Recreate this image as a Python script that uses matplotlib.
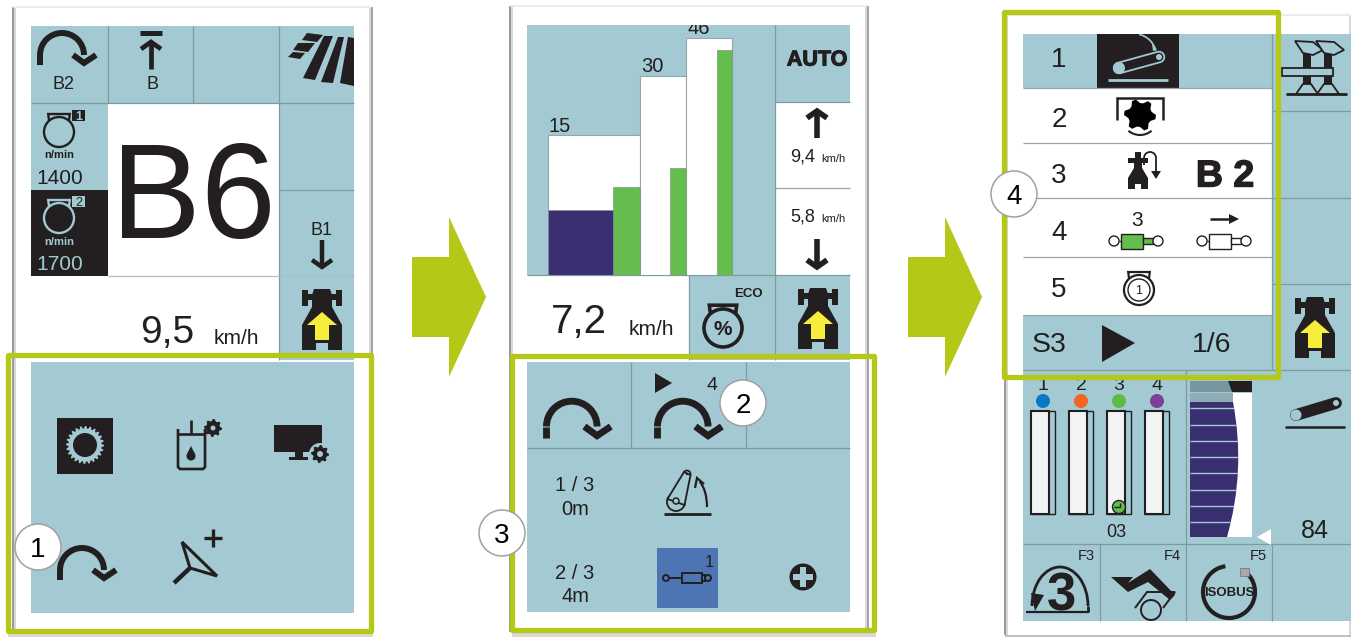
import numpy as np
import matplotlib
matplotlib.use('Agg')
import matplotlib.pyplot as plt
import matplotlib.patheffects as pe
from matplotlib.patches import Rectangle, Circle, Polygon, Arc, PathPatch
from matplotlib.path import Path

plt.rcParams['font.family'] = ['Liberation Sans', 'DejaVu Sans']

TEAL = '#a3c9d2'
DARK = '#231f20'
LINE = '#7f9aa1'
GREEN_FRAME = '#b3c817'
BAR_GREEN = '#65bd4d'
NAVY = '#3a2f70'
YELLOW = '#f7ee3b'

# bar panel (middle screen)
bar_labels = ['15', '30', '46']
bar_heights = [140, 199, 237]
green_heights = [88, 107, 225]
navy_height = 65

# values on the displays
engine_speeds = ['1400', '1700']
menu_numbers = ['1', '2', '3', '4', '5']
channel_labels = ['1', '2', '3', '4']
channel_colors = ['#0a77c4', '#f26522', '#5ebb47', '#7e3f98']
callouts = ['1', '2', '3', '4']

fig = plt.figure(figsize=(13.51, 6.39), dpi=100)
ax = fig.add_axes([0, 0, 1, 1])
ax.set_xlim(0, 1351)
ax.set_ylim(639, 0)
ax.axis('off')


def rect(x0, y0, x1, y1, color=TEAL, ec='none', lw=0, z=1):
    ax.add_patch(Rectangle((x0, y0), x1 - x0, y1 - y0, fc=color, ec=ec, lw=lw, zorder=z))


def line(xs, ys, color=LINE, lw=0.9, z=2, cap='butt'):
    return ax.plot(xs, ys, color=color, lw=lw, zorder=z, solid_capstyle=cap, solid_joinstyle='miter')[0]


def txt(x, y, s, size, color=DARK, weight='normal', ha='center', z=6, **kw):
    # y is the middle of the capitals
    return ax.text(x, y + size * 0.13, s, fontsize=size, color=color, weight=weight,
                   ha=ha, va='center', zorder=z, **kw)


def poly(pts, ox=0, oy=0, s=1, color=DARK, z=5, ec='none', lw=0):
    pts = [(ox + p[0] * s, oy + p[1] * s) for p in pts]
    ax.add_patch(Polygon(pts, closed=True, fc=color, ec=ec, lw=lw, zorder=z))


def card(x0, y0, x1, y1):
    rect(x0, y0, x1, y1, color='white', z=0.5)
    rect(x0 - 1, y0, x0 + 1, y1, color='#9a9a9a', z=0.6)
    rect(x0 + 1, y0, x0 + 3, y1, color='#d8d8d8', z=0.6)
    rect(x1 - 2, y0, x1, y1, color='#d8d8d8', z=0.6)
    rect(x1, y0, x1 + 2, y1, color='#a5a5a5', z=0.6)
    rect(x0, y0 - 1, x1, y0 + 1, color='#ececec', z=0.6)


def frame(x0, y0, x1, y1):
    ax.add_patch(Rectangle((x0, y0), x1 - x0, y1 - y0, fc='none', ec=GREEN_FRAME, lw=3.8,
                           zorder=8, joinstyle='round'))


def circle_tag(x, y, s):
    ax.add_patch(Circle((x, y), 23, fc='white', ec='#a0a0a0', lw=1.1, zorder=9))
    txt(x, y, s, 20, color='black', z=10)


def big_arrow(x):
    poly([(0, 257), (37, 257), (37, 217), (74, 297), (37, 377), (37, 337), (0, 337)], x, 0, 1, GREEN_FRAME, 1)


def turn_arrow(x, y, s=1.0, color=DARK, lw=4.3):
    # x, y = left end of stem, bottom
    cx, cy, r = x + 25 * s, y - 10 * s, 22 * s
    ax.add_patch(Arc((cx, cy), 2 * r, 2 * r, theta1=180, theta2=360, ec=color, lw=lw * s, zorder=5))
    line([x + 3 * s, x + 3 * s], [cy, y], color=color, lw=lw * s, z=5)
    line([x + 36 * s, x + 47 * s, x + 59 * s], [y - 10 * s, y - 2 * s, y - 10 * s], color=color, lw=lw * s, z=5)


def engine(cx, cy, r, color=DARK, lw=1.7, fill='none'):
    ax.add_patch(Circle((cx, cy), r, fc=fill, ec=color, lw=lw, zorder=5))
    w = r * 0.72
    line([cx - w * 0.92, cx - w, cx + w, cx + w * 0.92],
         [cy - r * 0.75, cy - r * 1.2, cy - r * 1.2, cy - r * 0.75], color=color, lw=lw, z=5)


def gear(cx, cy, r_out, r_in, n, color=DARK, hole=None, r_hole=0, z=5):
    ang = np.linspace(0, 2 * np.pi, n * 4, endpoint=False)
    rad = np.where(np.arange(n * 4) % 4 < 2, r_out, r_in)
    pts = np.c_[cx + rad * np.cos(ang), cy + rad * np.sin(ang)]
    ax.add_patch(Polygon(pts, fc=color, ec='none', zorder=z))
    if hole is not None:
        ax.add_patch(Circle((cx, cy), r_hole, fc=hole, ec='none', zorder=z + 0.1))


def tractor(x, y):
    # x = centre, y = top of the icon
    poly([(-20, 1), (-14, 1), (-14, 5), (14, 5), (14, 1), (20, 1), (20, 17), (14, 17), (14, 11),
          (10, 11), (10, 18), (20, 36), (20, 61), (6, 61), (6, 54), (-6, 54), (-6, 61), (-20, 61),
          (-20, 36), (-10, 18), (-10, 11), (-14, 11), (-14, 17), (-20, 17)], x, y)
    poly([(-8, 0), (8, 0), (10, 6), (10, 24), (-10, 24), (-10, 6)], x, y)
    poly([(0, 23), (15, 36), (7, 36), (7, 51), (-7, 51), (-7, 36), (-15, 36)], x, y, 1, YELLOW, 6)


def arrow_v(x, y0, y1, lw=2.6, head=10, color=DARK):
    # shaft from y0 to tip y1
    d = 1 if y1 > y0 else -1
    line([x, x], [y0, y1 - d * 3], color=color, lw=lw, z=5)
    line([x - head, x, x + head], [y1 - d * 8, y1 - d * 1, y1 - d * 8], color=color, lw=lw, z=5)


def cylinder(x, y, body=(-15, 7), fill='none', rod=None, color=DARK, lw=1, r=5, half=7.5, span=22):
    # hydraulic cylinder, x, y = centre between the two rings
    face = 'white' if fill != 'none' else 'none'
    ax.add_patch(Circle((x - span, y), r, fc=face, ec=color, lw=lw, zorder=5.2))
    ax.add_patch(Circle((x + span, y), r, fc=face, ec=color, lw=lw, zorder=5.2))
    rect(x + body[0], y - half, x + body[1], y + half, color=fill, ec=color, lw=lw, z=5)
    rect(x + body[1], y - 3, x + span - r, y + 3, color=rod if rod else 'none', ec=color, lw=lw, z=5)
    line([x - span + r, x + body[0]], [y, y], color=color, lw=lw, z=5)


# ---------------- cards and arrows
card(13, 7, 371, 632)
card(510, 6, 867, 632)
card(1005, 15, 1351, 635)
rect(8, 633, 373, 637, color='#d8d8d8', z=0.4)
rect(512, 633, 876, 637, color='#d8d8d8', z=0.4)
rect(1005, 635, 1351, 637, color='#c0c0c0', z=0.4)
big_arrow(412)
big_arrow(908)

# ---------------- screen 1
rect(31, 26, 354, 103)
rect(31, 103, 108, 190)
rect(31, 190, 108, 276, color=DARK, z=1.5)
rect(279, 103, 354, 360)
rect(31, 362, 354, 613)
line([108, 108], [26, 103])
line([193, 193], [26, 103])
line([279, 279], [26, 360])
line([31, 354], [103, 103])
line([279, 354], [190, 190])
line([108, 354], [276, 276], color='#b0bcc0')

turn_arrow(37, 65, 1.0)
txt(64, 83, 'B2', 13)
line([140, 162], [33, 33], lw=3.6, color=DARK)
arrow_v(151, 69, 41, lw=3.4, head=10)
txt(153, 83, 'B', 13)
poly([(324, 36), (333, 36), (315, 80), (303, 78)])
poly([(338, 37), (344, 37), (333, 83), (321, 82)])
poly([(348, 37), (354, 38), (354, 86), (340, 83)])
poly([(307, 33), (323, 35), (317, 42), (302, 40)])
poly([(298, 43), (315, 43), (308, 52), (293, 50)])
poly([(293, 52), (305, 53), (300, 59), (288, 57)])

engine(59, 132, 15)
rect(72, 110, 85, 121, color=DARK, z=5)
txt(78.5, 115.5, '1', 9, color=TEAL, weight='bold')
txt(59, 154, 'n/min', 8, weight='bold')
txt(60, 177, engine_speeds[0], 15)
engine(59, 218, 15, color=TEAL)
rect(72, 196, 85, 207, color=TEAL, z=5)
txt(78.5, 201.5, '2', 9, color=DARK)
txt(59, 241, 'n/min', 8, color=TEAL, weight='bold')
txt(60, 263, engine_speeds[1], 15, color=TEAL)

txt(193, 190, 'B6', 97)
txt(321, 229, 'B1', 13)
arrow_v(322, 240, 268, lw=3.2, head=10)
tractor(322, 289)
txt(167, 329, '9,5', 28)
txt(236, 337, 'km/h', 15)

rect(57, 418, 113, 474, color=DARK, z=4)
gear(85, 445, 19, 16.5, 24, color=TEAL, hole=DARK, r_hole=12)
# oil can with gear
line([178, 178, 180, 203, 205, 205], [429, 467, 469, 469, 467, 429], lw=1.9, color=DARK, z=5)
line([178, 205], [434, 434], lw=1.9, color=DARK, z=5)
line([191, 191], [420, 434], lw=1.9, color=DARK, z=5)
ax.add_patch(Circle((191, 456), 4.5, fc=DARK, ec='none', zorder=5))
poly([(191, 446), (195, 454), (187, 454)])
gear(213, 428, 9, 7, 8, hole=TEAL, r_hole=2.5)
# monitor with gear
rect(274, 425, 322, 452, color=DARK, z=4)
rect(295, 452, 303, 457, color=DARK, z=4)
rect(289, 457, 308, 460, color=DARK, z=4)
ax.add_patch(Circle((320, 454), 11, fc=TEAL, ec='none', zorder=4.5))
gear(320, 454, 9, 7, 8, hole=TEAL, r_hole=3)

turn_arrow(57, 580, 1.0)
# Y shaped tool with plus
line([182, 190, 217, 182], [542, 568, 576, 542], color=DARK, lw=2.2, z=5)
line([174, 190], [583, 568], color=DARK, lw=3.2, z=5)
line([204, 222], [538, 538], color=DARK, lw=2.4, z=5)
line([213, 213], [529, 547], color=DARK, lw=2.4, z=5)

frame(8, 355, 371, 631)
circle_tag(38, 547, callouts[0])

# ---------------- screen 2
rect(527, 25, 775, 275)
rect(775, 25, 850, 102)
rect(775, 102, 850, 275, color='white')
rect(689, 275, 850, 360)
rect(527, 362, 850, 612)
line([775, 775], [25, 360])
line([775, 850], [102, 102])
line([775, 850], [188, 188], color='#a0a0a0')
line([527, 850], [275, 275])
line([689, 689], [275, 360])

# bars go through their own axes, y = height above baseline
bar_ax = fig.add_axes([527 / 1351, 1 - 275 / 639, 248 / 1351, 250 / 639], zorder=3)
bar_ax.set_xlim(527, 775)
bar_ax.set_ylim(0, 250)
bar_ax.axis('off')
bar_lefts = [548, 640, 686]
bar_widths = [92, 46, 46]
bar_ax.bar(bar_lefts, bar_heights, bar_widths, align='edge', color='white', ec='#9aa5a8', lw=0.8)
green_widths = [27, 16, 15]
green_lefts = [l + w - g for l, w, g in zip(bar_lefts, bar_widths, green_widths)]
bar_ax.bar(green_lefts, green_heights, green_widths, align='edge', color=BAR_GREEN, ec='#7f9a80', lw=0.5)
bar_ax.bar([548], [navy_height], [65], align='edge', color=NAVY, ec='#8a90a0', lw=0.5)
label_x = [560, 652, 699]
for lx, h, lab in zip(label_x, bar_heights, bar_labels):
    bar_ax.text(lx, h + 9, lab, fontsize=14.5, color=DARK, ha='center', va='center', clip_on=True)

txt(817, 58, 'AUTO', 15.5, weight='bold',
    path_effects=[pe.withStroke(linewidth=0.8, foreground=DARK)])
arrow_v(817, 138, 110, lw=4, head=10)
txt(803, 155, '9,4', 13)
txt(833, 158, 'km/h', 8)
txt(803, 215, '5,8', 13)
txt(833, 218, 'km/h', 8)
arrow_v(817, 239, 268, lw=4, head=10)
txt(579, 318, '7,2', 29)
txt(651, 328, 'km/h', 15)
txt(748, 293, 'ECO', 9.5, weight='bold')
engine(723, 328, 19, lw=2.6)
txt(723, 328, '%', 15, weight='bold')
tractor(818, 288)

line([631, 631], [362, 448])
line([746, 746], [362, 448])
line([527, 850], [448, 448])
turn_arrow(543, 438, 1.15)
turn_arrow(654, 438, 1.15)
poly([(655, 373), (672, 383), (655, 393)])
txt(712, 384, '4', 14)
txt(575, 484, '1 / 3', 14.5)
txt(575, 508, '0m', 14.5)
txt(575, 572, '2 / 3', 14.5)
txt(575, 595, '4m', 14.5)
# lever icon
ax.add_patch(Circle((676, 502), 9, fc=TEAL, ec=DARK, lw=1.3, zorder=5))
ax.add_patch(Circle((687, 474), 3.5, fc=TEAL, ec=DARK, lw=1.3, zorder=5))
poly([(667.5, 499), (684, 472), (690.5, 475), (684.5, 505)], color=TEAL, ec=DARK, lw=1.3, z=5.1)
ax.add_patch(Circle((676, 501), 3, fc=TEAL, ec=DARK, lw=1.1, zorder=5.2))
ax.add_patch(Circle((687, 474), 1.2, fc=DARK, ec='none', zorder=5.2))
ax.add_patch(Arc((693, 507), 28, 58, theta1=285, theta2=360, ec=DARK, lw=1.6, zorder=5))
line([695, 697, 704], [488, 478, 484], color=DARK, lw=1.6, z=5)
line([664, 711], [514, 514], color=DARK, lw=2, z=5)
rect(657, 548, 718, 608, color='#4e75b3', z=4)
txt(709, 561, '1', 12)
cylinder(687, 578, body=(-5, 15), lw=1.4, r=3, half=5, span=21)
ax.add_patch(Circle((803, 577), 13.5, fc=DARK, ec='none', zorder=5))
rect(793, 574, 813, 580, color=TEAL, z=5.1)
rect(800, 567, 806, 587, color=TEAL, z=5.1)

frame(512, 356, 874, 630)
circle_tag(743, 403, callouts[1])
circle_tag(502, 533, callouts[2])

# ---------------- screen 3
rect(1272, 34, 1351, 370)
rect(1023, 34, 1272, 88)
rect(1023, 88, 1272, 315, color='white')
rect(1023, 315, 1272, 370)
rect(1023, 370, 1351, 621)
rect(1097, 34, 1179, 88, color=DARK, z=1.5)
line([1272, 1272], [34, 370])
for yy in [88, 143, 198, 257, 315]:
    line([1023, 1272], [yy, yy], color='#9aa5a8')
for yy in [111, 198, 284, 370]:
    line([1272, 1351], [yy, yy])
line([1023, 1272], [370, 370])
line([1186, 1186], [370, 544])
line([1023, 1351], [544, 544])
for xx in [1100, 1186, 1272]:
    line([xx, xx], [544, 621])

# menu rows
for yy, n in zip([57, 117, 173, 230, 287], menu_numbers):
    txt(1059, yy, n, 20)
# conveyor, selected entry
ax.plot([1119, 1159], [68, 57], color=TEAL, lw=9, solid_capstyle='round', zorder=5)
ax.plot([1119, 1159], [68, 57], color=DARK, lw=6.4, solid_capstyle='round', zorder=5.1)
ax.add_patch(Circle((1119, 68), 6, fc=TEAL, ec='none', zorder=5.2))
ax.add_patch(Circle((1159, 57), 3, fc=TEAL, ec='none', zorder=5.2))
line([1108, 1168], [80, 80], color=TEAL, lw=2, z=5)
ax.add_patch(Arc((1135, 58), 44, 48, theta1=280, theta2=340, ec=TEAL, lw=1.2, zorder=5))
poly([(1152, 44), (1157, 50), (1153, 51)], color=TEAL)
# rotor row
line([1117, 1117, 1163, 1163], [120, 98, 98, 120], color=DARK, lw=1.8, z=5)
gear(1140, 115, 16, 12, 6, color='black', z=5)
ax.add_patch(Arc((1140, 117), 36, 36, theta1=50, theta2=130, ec=DARK, lw=1.5, zorder=5))
# tractor with loop arrow
poly([(-3, -20), (3, -20), (3, -14), (10, -14), (10, -9), (4, -9), (4, -4), (10, 6), (10, 17), (3, 17),
      (3, 12), (-3, 12), (-3, 17), (-10, 17), (-10, 6), (-4, -4), (-4, -9), (-10, -9), (-10, -14),
      (-3, -14)], 1138, 172)
ax.add_patch(Arc((1150, 158), 12, 12, theta1=180, theta2=360, ec=DARK, lw=1.3, zorder=5))
line([1156, 1156], [158, 172], color=DARK, lw=1.3, z=5)
line([1144, 1144], [158, 165], color=DARK, lw=1.3, z=5)
poly([(1151, 171), (1161, 171), (1156, 179)])
txt(1225, 173, 'B 2', 27, weight='bold', path_effects=[pe.withStroke(linewidth=1, foreground=DARK)])
txt(1137, 219, '3', 15)
cylinder(1136, 241, fill=BAR_GREEN, rod=BAR_GREEN)
line([1210, 1232], [219, 219], color=DARK, lw=1.8, z=5)
poly([(1229, 214), (1239, 219), (1229, 224)])
cylinder(1224, 241, fill='white', rod='white')
engine(1139, 290, 15, lw=1.6)
ax.add_patch(Circle((1139, 290), 11, fc='none', ec=DARK, lw=1, zorder=5))
txt(1139, 290, '1', 9)
txt(1049, 342, 'S3', 20.5)
poly([(1102, 325), (1135, 343), (1102, 362)])
txt(1212, 342, '1/6', 20.5)

# right column icons
line([1286, 1347], [94, 94], color=DARK, lw=2, z=5)
rect(1282, 68, 1333, 76, color=TEAL, ec=DARK, lw=1.3, z=5.2)
for xx in [1307, 1328]:
    rect(xx - 4, 54, xx + 4, 68, color=DARK, z=5)
    rect(xx - 4, 76, xx + 4, 85, color=DARK, z=5)
    poly([(-12, -14), (6, -13), (16, -5), (6, 0), (-4, -2)], xx, 55, color=TEAL, ec=DARK, lw=1.3, z=5.1)
    poly([(-4, 0), (4, 0), (11, 10), (-11, 10)], xx, 84, color=TEAL, ec=DARK, lw=1.3, z=5.1)
tractor(1315, 297)
# conveyor
ax.plot([1296, 1336], [415, 403], color=DARK, lw=8.5, solid_capstyle='round', zorder=5)
ax.add_patch(Circle((1296, 415), 5.5, fc=TEAL, ec='none', zorder=5.1))
ax.add_patch(Circle((1336, 403), 3, fc=TEAL, ec='none', zorder=5.1))
line([1285, 1345], [427, 427], color=DARK, lw=1.8, z=5)
txt(1315, 529, '84', 18)

# valve columns
col_lefts = [1031, 1069, 1107, 1145]
for xl, lab, col in zip(col_lefts, channel_labels, channel_colors):
    rect(xl, 411, xl + 24, 514, color='none', ec=DARK, lw=1, z=4)
    rect(xl, 411, xl + 18, 514, color='#f2f4f4', ec=DARK, lw=1.5, z=4.1)
    txt(xl + 12, 384, lab, 14)
    ax.add_patch(Circle((xl + 12, 401), 7, fc=col, ec='none', zorder=5))
ax.add_patch(Circle((1119, 507), 6.5, fc=BAR_GREEN, ec=DARK, lw=1, zorder=5))
line([1114, 1120, 1120], [507, 507, 503], color=DARK, lw=1, z=6)
txt(1116, 531, '03', 13)

# level gauge
rect(1190, 393, 1252, 537, color='white', z=1.8)
poly([(1190, 381), (1228, 381), (1232, 392), (1190, 392)], color='#7896a0', z=2)
poly([(1228, 381), (1252, 381), (1252, 392), (1232, 392)], color=DARK, z=2)
rect(1190, 393, 1233, 402, color='#8fadb5', z=2)
verts = [(1190, 402), (1233, 402), (1246, 470), (1227, 537), (1190, 537), (1190, 402)]
codes = [Path.MOVETO, Path.LINETO, Path.CURVE3, Path.CURVE3, Path.LINETO, Path.CLOSEPOLY]
level = PathPatch(Path(verts, codes), fc=NAVY, ec='none', zorder=2.5)
ax.add_patch(level)
for yy in [408, 425, 441, 457, 473, 490, 506, 522]:
    line([1190, 1245], [yy, yy], color=TEAL, lw=1, z=3).set_clip_path(level)
poly([(1257, 537), (1271, 529), (1271, 545)], color='white')

# F row
txt(1086, 555, 'F3', 10.5)
txt(1172, 555, 'F4', 10.5)
txt(1258, 555, 'F5', 10.5)
txt(1061, 592, '3', 38, weight='bold')
ax.add_patch(Arc((1060, 606), 56, 78, theta1=180, theta2=360, ec=DARK, lw=2, zorder=5))
line([1088, 1088], [606, 612], color=DARK, lw=2, z=5)
line([1026, 1089], [612, 612], color=DARK, lw=1.6, z=5)
poly([(1031, 593), (1044, 595), (1035, 611)])
# loader
poly([(1111, 577), (1133, 577), (1128, 583), (1150, 569), (1175, 595), (1170, 600), (1148, 582),
      (1128, 592)])
ax.add_patch(Circle((1151, 610), 10, fc='none', ec=DARK, lw=1.4, zorder=5))
line([1135, 1147, 1175, 1163], [608, 592, 592, 608], color=DARK, lw=1.4, z=5)
# isobus ring
ax.add_patch(Arc((1229, 592), 52, 52, theta1=-50, theta2=262, ec=DARK, lw=3, zorder=5))
txt(1229, 592, 'ISOBUS', 9.5, weight='bold', family=['Liberation Sans Narrow', 'Liberation Sans'])
rect(1240, 568, 1249, 576, color='#a8a8a8', ec='#707070', lw=0.5, z=6)

frame(1004, 12, 1278, 377)
circle_tag(1014, 194, callouts[3])

fig.savefig('out.png', dpi=100)
